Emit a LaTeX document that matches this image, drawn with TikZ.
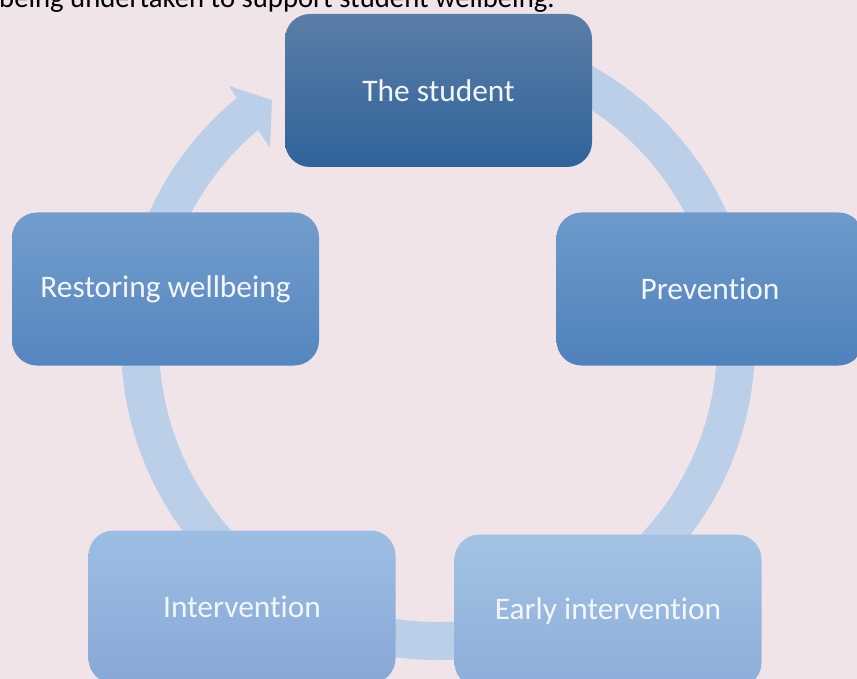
\documentclass[tikz,border=0pt]{standalone}
\usepackage{fontspec}
\setmainfont{Carlito}[Ligatures={NoCommon}]

\definecolor{bgpink}{HTML}{F0E4E8}
\definecolor{ringblue}{HTML}{BBD0E8}
\definecolor{boxtext}{HTML}{F3F6FA}
\definecolor{studenttop}{HTML}{5A7EA6}
\definecolor{studentbot}{HTML}{30639A}
\definecolor{prevtop}{HTML}{6E9ACB}
\definecolor{prevbot}{HTML}{4F81BC}
\definecolor{earlytop}{HTML}{A3C2E5}
\definecolor{earlybot}{HTML}{8DAED9}
\definecolor{intertop}{HTML}{9DBEE3}
\definecolor{interbot}{HTML}{87A8D6}
\definecolor{resttop}{HTML}{729ECD}
\definecolor{restbot}{HTML}{5686C0}

\tikzset{
  cyclebox/.style={rounded corners=25pt, minimum width=307pt,
    minimum height=153pt, inner sep=0pt, text=boxtext,
    font=\fontsize{31.4}{36}\selectfont},
  ring/.style={draw=ringblue, line width=38pt}
}

\begin{document}
\begin{tikzpicture}[x=1pt,y=-1pt]
      \useasboundingbox (0,0) rectangle (857,679);
      \clip (0,0) rectangle (857,679);
      \fill[bgpink] (0,0) rectangle (857,679);
      \node[anchor=base west, inner sep=0pt, font=\fontsize{28.7}{34}\selectfont]
        (title) at (-1,8) {being undertaken to support student wellbeing.};
      % the cycle arrow, behind the boxes
      \coordinate (c) at (438,343);
      \draw[ring] (c) ++(-95:298) arc[start angle=-95, end angle=231, radius=298];
      \fill[ringblue] (238,100) -- (229,86) -- (272,100) -- (270,148) -- (260,133) -- cycle;
      \draw
        (438.5,90.5) node[cyclebox, top color=studenttop, bottom color=studentbot] (0){The student}
        (710,289) node[cyclebox, top color=prevtop, bottom color=prevbot] (1){Prevention}
        (608,611) node[cyclebox, top color=earlytop, bottom color=earlybot] (2){Early intervention}
        (242,607) node[cyclebox, top color=intertop, bottom color=interbot] (3){Intervention}
        (165.5,289) node[cyclebox, top color=resttop, bottom color=restbot] (4){Restoring wellbeing};
\end{tikzpicture}
\end{document}
